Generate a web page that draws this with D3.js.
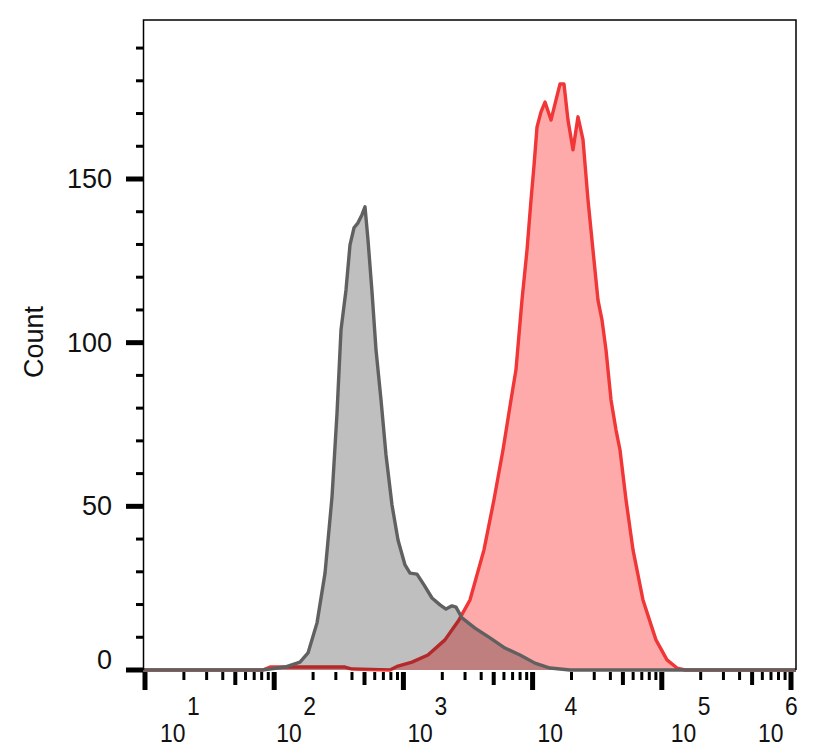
<!DOCTYPE html>
<html><head><meta charset="utf-8">
<script src="https://cdn.jsdelivr.net/npm/d3@7"></script>
<style>
body{margin:0;background:#fff}
svg{display:block}
text{font-family:"Liberation Sans",Arial,sans-serif;fill:#111}
</style>
</head><body>
<svg id="chart" width="826" height="754"></svg>
<script>
// ---- data (fluorescence intensity, count) ----
const grayX = [9.65, 80.5, 121.2, 158.4, 182.7, 214.5, 247.4, 280.2, 306.3, 328.9,
  359.5, 386.1, 414.6, 445.2, 478.1, 504.4, 532.1, 571.5, 613.7, 671,
  733.5, 816.2, 908.2, 1029, 1125, 1274, 1443, 1665, 1920, 2137,
  2378, 2554, 2842, 3583, 4681, 6114, 7990, 10430, 13640, 19480, 1093000];
const grayY = [0, 0, 0.9, 2.4, 5.2, 14.4, 29.6, 52.9, 78.5, 103.9,
  116.1, 129.9, 135.1, 136.6, 139.1, 141.5, 131.4, 115.5, 97.8, 82.5,
  65.7, 50.4, 39.7, 32.1, 29.6, 29.3, 26, 22, 19.9, 18.6,
  19.6, 19.2, 15.9, 12.8, 9.8, 6.7, 4.6, 2.1, 0.6, 0, 0];
const redX = [9.65, 81.9, 92.8, 353, 400, 787, 908, 1166, 1549, 2098,
  2692, 3275, 4204, 5023, 5899, 6803, 7435, 8275, 9053, 9724,
  10260, 10820, 11620, 12480, 13880, 15180, 16290, 17500, 18790, 20550,
  22460, 24550, 26840, 29330, 32070, 34450, 36990, 40450, 44220, 47480,
  52830, 59870, 71500, 90100, 109700, 131100, 151300, 1093000];
const redY = [0, 0, 0.9, 0.9, 0.3, 0, 1.2, 2.4, 4.6, 9.2,
  15.3, 21.4, 36.7, 52, 67.2, 82.5, 91.7, 113, 128.3, 143.6,
  154.2, 165.9, 170.5, 173.5, 168, 174.2, 179, 179, 168, 158.9,
  169, 162, 143.6, 128.3, 113, 106.9, 97.8, 82.5, 73.3, 67.2,
  52, 36.7, 21.4, 9.2, 3.1, 0.6, 0, 0];
const yMajorTicks = [0, 50, 100, 150];
const yMinorTicks = [10, 20, 30, 40, 60, 70, 80, 90, 110, 120, 130, 140, 160, 170, 180, 190];
const xMajorTicks = [10, 100, 1000, 10000, 100000, 1000000];
const xExponentLabels = ["1", "2", "3", "4", "5", "6"];
const yLabel = "Count";

// ---- layout ----
const L = 143.5, R = 796, T = 20, B = 670;
const labelShift = [15, 2, 4, 5, 9, -33];

const svg = d3.select("#chart");
const x = d3.scaleLog().domain([10, 1e6]).range([145, 791]);
const y = d3.scaleLinear().domain([0, 150]).range([670, 179]);

svg.append("defs").append("clipPath").attr("id", "clip")
  .append("rect").attr("x", L).attr("y", T).attr("width", R - L).attr("height", B - T + 2);

const g = svg.append("g").attr("clip-path", "url(#clip)");
const toPts = (xs, ys) => xs.map((v, i) => [v, ys[i]]);
const area = d3.area().x(d => x(d[0])).y0(y(0)).y1(d => y(d[1]));
const line = d3.line().x(d => x(d[0])).y(d => y(d[1]));

const red = toPts(redX, redY), gray = toPts(grayX, grayY);
g.append("path").datum(red).attr("d", area).attr("fill", "#ffaaaa");
g.append("path").datum(red).attr("d", line).attr("fill", "none").attr("stroke", "#f03636").attr("stroke-width", 3.4).attr("stroke-linejoin", "round");
g.append("path").datum(gray).attr("d", area).attr("fill", "#bfbfbf").style("mix-blend-mode", "multiply");
g.append("path").datum(gray).attr("d", line).attr("fill", "none").attr("stroke", "#606060").attr("stroke-width", 3.4).attr("stroke-linejoin", "round");

// frame
svg.append("path").attr("d", `M${L},${B}V${T}H${R}V${B}`).attr("fill", "none").attr("stroke", "#000").attr("stroke-width", 1.5);

// y ticks
svg.selectAll(".ymaj").data(yMajorTicks).join("line")
  .attr("x1", 126).attr("x2", L).attr("y1", d => y(d)).attr("y2", d => y(d))
  .attr("stroke", "#000").attr("stroke-width", 5);
svg.selectAll(".ymin").data(yMinorTicks).join("line")
  .attr("x1", 136).attr("x2", L).attr("y1", d => y(d)).attr("y2", d => y(d))
  .attr("stroke", "#000").attr("stroke-width", 3);
svg.selectAll(".ylab").data(yMajorTicks).join("text")
  .attr("x", 112).attr("y", d => y(d) + (d === 0 ? -1 : 9))
  .attr("text-anchor", "end").attr("font-size", 27).text(d => d);

// x ticks
const xMinor = [];
xMajorTicks.slice(0, -1).forEach(p => { for (let k = 2; k <= 9; k++) xMinor.push(p * k); });
const mant = d => Math.round(d / Math.pow(10, Math.floor(Math.log10(d) + 1e-9)));
svg.selectAll(".xmin").data(xMinor).join("line")
  .attr("x1", d => x(d)).attr("x2", d => x(d)).attr("y1", 672)
  .attr("y2", d => mant(d) === 5 ? 685 : 680)
  .attr("stroke", "#000").attr("stroke-width", d => mant(d) === 5 ? 4 : 3);
svg.selectAll(".xmaj").data(xMajorTicks).join("line")
  .attr("x1", d => x(d)).attr("x2", d => x(d)).attr("y1", 672).attr("y2", 690)
  .attr("stroke", "#000").attr("stroke-width", 5);
const xl = svg.selectAll(".xlab").data(xMajorTicks).join("g")
  .attr("transform", (d, i) => `translate(${x(d) + labelShift[i]},0)`);
xl.append("text").attr("transform", "translate(0,742) scale(0.88,1)").attr("font-size", 26).text("10");
xl.append("text").attr("transform", "translate(27,715) scale(0.88,1)").attr("font-size", 26).text((d, i) => xExponentLabels[i]);

// y label
svg.append("text").attr("transform", "translate(43,342) rotate(-90)")
  .attr("text-anchor", "middle").attr("font-size", 27).text(yLabel);
</script>
</body></html>
